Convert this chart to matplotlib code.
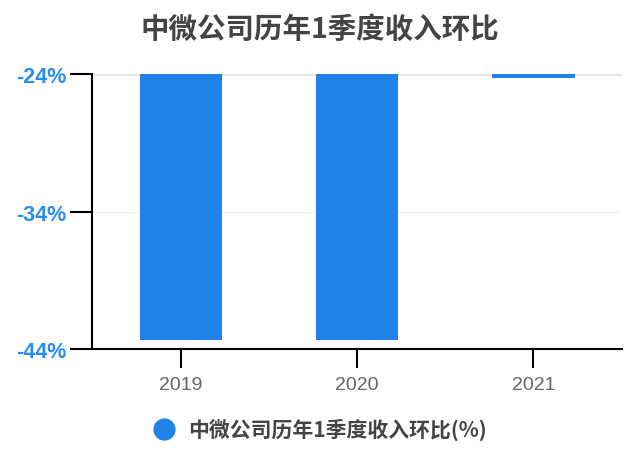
import matplotlib
matplotlib.use("Agg")
import matplotlib.pyplot as plt
from matplotlib.lines import Line2D

# --- data ---
years = ["2019", "2020", "2021"]
qoq_pct = [-43.3, -43.3, -24.31]
y_ticks = [-44, -34, -24]

TITLE = "中微公司历年1季度收入环比"
SERIES = "中微公司历年1季度收入环比(%)"
BAR_BLUE = "#1e82e6"
LABEL_BLUE = "#2b8ced"

plt.rcParams['font.family'] = ['Noto Sans CJK SC', 'DejaVu Sans']

fig = plt.figure(figsize=(6.4, 4.77), dpi=100)
ax = fig.add_axes([0.1445, 0.2656, 0.8269, 0.5778])

x = list(range(len(years)))
ax.bar(x, qoq_pct, width=0.465, color=BAR_BLUE, zorder=3)

ax.set_xlim(-0.5, len(years) - 0.5)
ax.set_ylim(y_ticks[0], y_ticks[-1])
ax.set_yticks(y_ticks)
ax.set_yticklabels([f"{v}%" for v in y_ticks], color=LABEL_BLUE,
                   fontsize=15.5, fontweight="bold", family="Liberation Sans")
ax.set_xticks(x)
ax.set_xticklabels(years, color="#666666", fontsize=14, family="Liberation Sans")

ax.yaxis.grid(True, color="#f0f0f0", linewidth=1.0, zorder=0)
ax.axhline(y_ticks[-1], color="#e4e4e4", linewidth=2, zorder=1)
ax.set_axisbelow(True)
for side in ("top", "right"):
    ax.spines[side].set_visible(False)
ax.spines["left"].set_linewidth(1.5)
ax.spines["bottom"].set_linewidth(1.5)
ax.tick_params(axis="y", length=16, width=1.5, pad=2.5)
ax.tick_params(axis="x", length=14, width=1.5, pad=5)

fig.text(0.5, 1 - 30 / 477, TITLE, ha="center", va="center",
         fontsize=20.5, fontweight="bold", color="#444444")

handle = Line2D([], [], marker="o", linestyle="none", markersize=15,
                color=BAR_BLUE)
fig.legend([handle], [SERIES], loc="center", bbox_to_anchor=(0.492, 1 - 430 / 477),
           frameon=False, handletextpad=0.15,
           prop={"size": 15, "weight": "bold"}, labelcolor="#444444")

fig.savefig("out.png", dpi=100)
